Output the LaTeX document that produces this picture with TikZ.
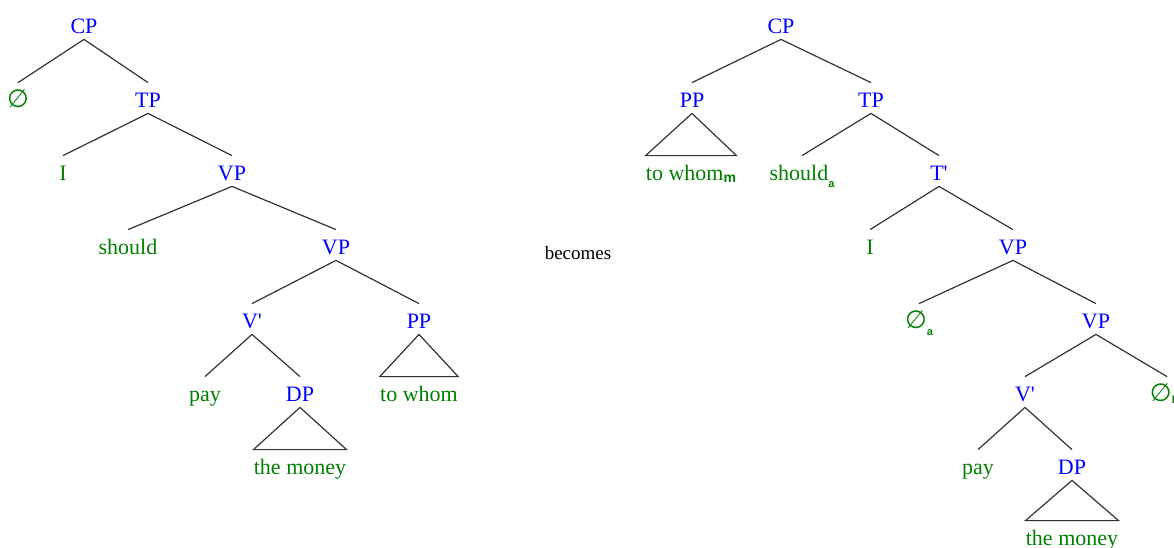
\documentclass[tikz,border=0pt]{standalone}
\usepackage{fontspec}
\setmainfont{Liberation Serif}
\newfontfamily\subfont{Liberation Sans}
\newfontfamily\symfont{DejaVu Sans}
\definecolor{catblue}{RGB}{0,0,255}
\definecolor{wordgreen}{RGB}{0,128,0}
% empty category symbol, bar mark and index subscripts
\newcommand\emptymark{{\symfont\fontsize{12.5}{13}\selectfont ∅}}
\newcommand\barmark{\textquotesingle}
\newcommand\idxlow[1]{\raisebox{-3.5pt}{\subfont\bfseries\fontsize{5.5}{6}\selectfont #1}}
\newcommand\idxbase[1]{\raisebox{-1pt}{\subfont\bfseries\fontsize{7}{7}\selectfont #1}}
\begin{document}
\begin{tikzpicture}[x=0.5pt,y=-0.5pt,
  lbl/.style={inner sep=0pt, anchor=base, text height=12pt, text depth=3pt,
              font=\fontsize{11}{13}\selectfont},
  cat/.style={lbl, text=catblue},
  word/.style={lbl, text=wordgreen},
  branch/.style={draw=black!80, line width=0.6pt}]
\useasboundingbox (0,0) rectangle (1174,547);
\clip (0,0) rectangle (1174,547);

% ---------- first tree ----------
\node[cat]  (aCP)  at (84,33)   {CP};
\node[word] (aNul) at (18,107)  {\emptymark};
\node[cat]  (aTP)  at (148,107) {TP};
\node[word] (aI)   at (63,180)  {I};
\node[cat]  (aVP)  at (232,180) {VP};
\node[word] (aSh)  at (128,254) {should};
\node[cat]  (aVPb) at (336,254) {VP};
\node[cat]  (aVb)  at (252,328) {V\barmark};
\node[cat]  (aPP)  at (419,328) {PP};
\node[word] (aPay) at (205,401) {pay};
\node[cat]  (aDP)  at (300,401) {DP};
\node[word] (aTW)  at (419,401) {to whom};
\node[word] (aTM)  at (300,474) {the money};

\draw[branch] (aCP.south) -- (aNul.north);
\draw[branch] (aCP.south) -- (aTP.north);
\draw[branch] (aTP.south) -- (aI.north);
\draw[branch] (aTP.south) -- (aVP.north);
\draw[branch] (aVP.south) -- (aSh.north);
\draw[branch] (aVP.south) -- (aVPb.north);
\draw[branch] (aVPb.south) -- (aVb.north);
\draw[branch] (aVPb.south) -- (aPP.north);
\draw[branch] (aVb.south) -- (aPay.north);
\draw[branch] (aVb.south) -- (aDP.north);
\draw[branch] (aPP.south) -- (aTW.north east) -- (aTW.north west) -- cycle;
\draw[branch] (aDP.south) -- (aTM.north east) -- (aTM.north west) -- cycle;

% ---------- middle ----------
\node[anchor=base, inner sep=0pt, font=\fontsize{9.5}{11}\selectfont] (becomes) at (578,259) {becomes};

% ---------- second tree ----------
\node[cat]  (bCP)  at (781,33)   {CP};
\node[cat]  (bPP)  at (692,107)  {PP};
\node[cat]  (bTP)  at (871,107)  {TP};
\node[word] (bTW)  at (691,180)  {to whom\idxbase{m}};
\node[word] (bSh)  at (802,180)  {should\idxlow{a}};
\node[cat]  (bTb)  at (939,180)  {T\barmark};
\node[word] (bI)   at (870,254)  {I};
\node[cat]  (bVP)  at (1013,254) {VP};
\node[word] (bNa)  at (919,328)  {\emptymark\idxlow{a}};
\node[cat]  (bVPb) at (1096,328) {VP};
\node[cat]  (bVb)  at (1025,401) {V\barmark};
\node[word] (bNm)  at (1167,401) {\emptymark\idxbase{m}};
\node[word] (bPay) at (978,474)  {pay};
\node[cat]  (bDP)  at (1072,474) {DP};
\node[word] (bTM)  at (1072,545) {the money};

\draw[branch] (bCP.south) -- (bPP.north);
\draw[branch] (bCP.south) -- (bTP.north);
\draw[branch] (bPP.south) -- (bTW.north east) -- (bTW.north west) -- cycle;
\draw[branch] (bTP.south) -- (bSh.north);
\draw[branch] (bTP.south) -- (bTb.north);
\draw[branch] (bTb.south) -- (bI.north);
\draw[branch] (bTb.south) -- (bVP.north);
\draw[branch] (bVP.south) -- (bNa.north);
\draw[branch] (bVP.south) -- (bVPb.north);
\draw[branch] (bVPb.south) -- (bVb.north);
\draw[branch] (bVPb.south) -- (bNm.north);
\draw[branch] (bVb.south) -- (bPay.north);
\draw[branch] (bVb.south) -- (bDP.north);
\draw[branch] (bDP.south) -- (bTM.north east) -- (bTM.north west) -- cycle;
\end{tikzpicture}
\end{document}
